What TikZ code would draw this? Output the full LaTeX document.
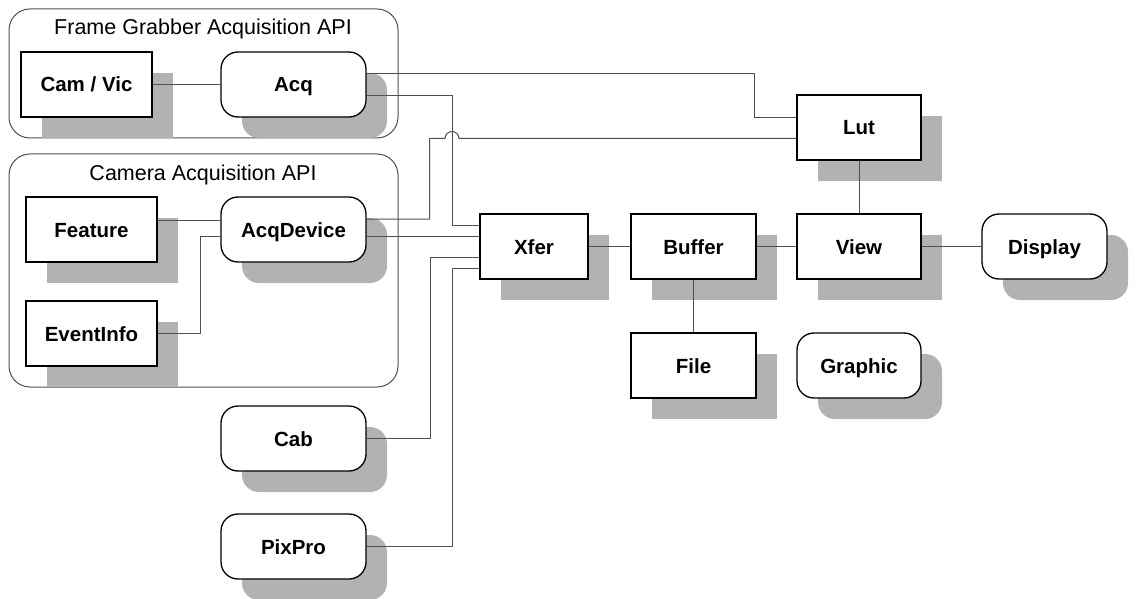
\documentclass[tikz,border=0pt]{standalone}
\usepackage{fontspec}
\setmainfont{Liberation Sans}
\usetikzlibrary{shadows}
\definecolor{shadowgray}{RGB}{178,178,178}
\definecolor{linegray}{RGB}{80,80,80}
\begin{document}
\begin{tikzpicture}[x=1pt,y=-1pt,
  box/.style={draw=black, line width=1.3pt, fill=white, inner sep=0pt,
    minimum height=65pt, text height=15pt, text depth=0pt,
    font=\bfseries\fontsize{20.5}{24}\selectfont,
    drop shadow={shadow xshift=21pt, shadow yshift=-21pt, fill=shadowgray, opacity=1}},
  rbox/.style={box, rounded corners=17pt},
  container/.style={draw=linegray, line width=1pt, rounded corners=21pt, inner sep=0pt},
  conn/.style={draw=linegray, line width=1pt},
  title/.style={font=\fontsize{21.5}{25}\selectfont, inner sep=0pt, text height=15pt, text depth=0pt}]
\useasboundingbox (0,0) rectangle (1146,599);
\fill[white] (0,0) rectangle (1146,599);

% containers
\node[container, minimum width=389pt, minimum height=129pt] (fg) at (203.5,73.5) {};
\node[container, minimum width=389pt, minimum height=233pt] (ca) at (203.5,270.5) {};
\node[title] (fgt) at (203,27.3) {Frame Grabber Acquisition API};
\node[title] (cat) at (203,172.8) {Camera Acquisition API};

% nodes
\node[box, minimum width=131pt] (camvic) at (86.5,84.5) {Cam / Vic};
\node[rbox, minimum width=145pt] (acq) at (293.5,84.5) {Acq};
\node[box, minimum width=131pt] (feature) at (91.5,229.5) {Feature};
\node[rbox, minimum width=145pt] (acqdev) at (293.5,229.5) {AcqDevice};
\node[box, minimum width=131pt] (eventinfo) at (91.5,333.5) {EventInfo};
\node[rbox, minimum width=145pt] (cab) at (293.5,438.5) {Cab};
\node[rbox, minimum width=145pt] (pixpro) at (293.5,546.5) {PixPro};
\node[box, minimum width=108pt] (xfer) at (534,246.5) {Xfer};
\node[box, minimum width=125pt] (buffer) at (693.5,246.5) {Buffer};
\node[box, minimum width=124pt] (view) at (859,246.5) {View};
\node[box, minimum width=124pt] (lut) at (859,127.5) {Lut};
\node[rbox, minimum width=125pt] (display) at (1044.5,246.5) {Display};
\node[box, minimum width=125pt] (file) at (693.5,365.5) {File};
\node[rbox, minimum width=124pt] (graphic) at (859,365.5) {Graphic};

% connectors
\draw[conn] (camvic.east) -- (acq.west);
\draw[conn] (feature.east |- 0,220) -- (acqdev.west |- 0,220);
\draw[conn] (eventinfo.east) -| (200,236.7) -- (acqdev.west |- 0,236.7);
\draw[conn] (acq.east |- 0,74) -| (754,117.3) -- (lut.west |- 0,117.3);
\draw[conn] (acq.east |- 0,95.7) -| (452,225) -- (xfer.west |- 0,225);
\draw[conn] (acqdev.east |- 0,219) -| (429.5,138.5) -- (445,138.5)
  arc[start angle=180, end angle=0, radius=7pt] -- (lut.west |- 0,138.5);
\draw[conn] (acqdev.east |- 0,236) -- (xfer.west |- 0,236);
\draw[conn] (cab.east) -| (430.5,257.3) -- (xfer.west |- 0,257.3);
\draw[conn] (pixpro.east) -| (452,268) -- (xfer.west |- 0,268);
\draw[conn] (xfer.east) -- (buffer.west);
\draw[conn] (buffer.east) -- (view.west);
\draw[conn] (view.east) -- (display.west);
\draw[conn] (lut.south) -- (view.north);
\draw[conn] (buffer.south) -- (file.north);
\end{tikzpicture}
\end{document}
